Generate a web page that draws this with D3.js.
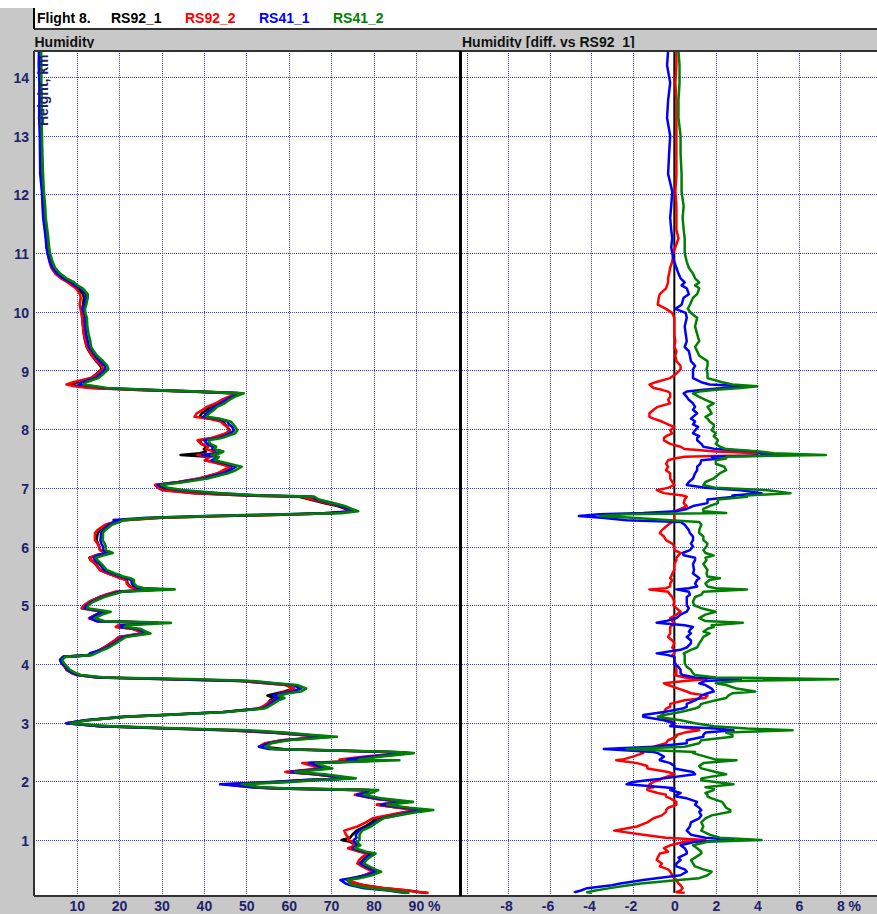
<!DOCTYPE html>
<html>
<head>
<meta charset="utf-8">
<title>Flight 8. Humidity</title>
<script src="https://cdn.jsdelivr.net/npm/d3@7"></script>
<style>
  html, body { margin: 0; padding: 0; background: #fff; }
  svg { display: block; }
</style>
</head>
<body>
<svg id="chart" width="877" height="914"></svg>
<script>
// Sounding levels (km) shared by all four radiosondes
const heightsKm = [
  14.44,14.2,13.9,13.6,13.3,13.0,12.7,12.35,12.05,11.8,
  11.6,11.4,11.25,11.1,11.0,10.85,10.75,10.65,10.57,10.5,
  10.45,10.4,10.3,10.24,10.12,10.05,9.98,9.9,9.75,9.62,
  9.5,9.4,9.33,9.25,9.16,9.08,9.02,8.95,8.87,8.8,
  8.76,8.73,8.7,8.67,8.64,8.61,8.55,8.5,8.44,8.38,
  8.33,8.27,8.21,8.18,8.13,8.08,8.04,7.98,7.93,7.88,
  7.85,7.81,7.75,7.7,7.66,7.62,7.59,7.56,7.53,7.5,
  7.47,7.41,7.36,7.3,7.25,7.16,7.1,7.05,7.0,6.96,
  6.91,6.87,6.85,6.8,6.74,6.69,6.64,6.6,6.57,6.55,
  6.52,6.49,6.45,6.42,6.37,6.28,6.23,6.17,6.11,6.05,
  6.0,5.94,5.89,5.85,5.81,5.77,5.7,5.6,5.54,5.49,
  5.46,5.43,5.37,5.32,5.29,5.27,5.23,5.18,5.14,5.06,
  5.0,4.95,4.89,4.84,4.78,4.73,4.7,4.66,4.63,4.6,
  4.55,4.52,4.46,4.4,4.35,4.28,4.24,4.18,4.15,4.12,
  4.07,4.01,3.95,3.9,3.84,3.81,3.77,3.74,3.71,3.67,
  3.64,3.58,3.53,3.5,3.46,3.42,3.38,3.32,3.27,3.24,
  3.18,3.13,3.1,3.04,2.99,2.94,2.9,2.87,2.83,2.79,
  2.76,2.7,2.65,2.59,2.55,2.5,2.48,2.42,2.37,2.36,
  2.31,2.26,2.22,2.16,2.12,2.05,2.02,1.99,1.95,1.9,
  1.88,1.85,1.8,1.77,1.74,1.71,1.65,1.6,1.55,1.51,
  1.48,1.42,1.37,1.3,1.23,1.16,1.09,1.04,1.0,0.97,
  0.91,0.86,0.8,0.77,0.7,0.66,0.6,0.55,0.5,0.46,
  0.4,0.35,0.32,0.26,0.23,0.18,0.14,0.11,0.1
];

// Relative humidity of the reference sonde RS92_1 (%)
const rhRS92_1 = [
  1.4,1.4,1.4,1.5,1.5,1.5,1.6,1.7,1.9,2.1,
  2.3,2.6,2.8,3.0,3.2,3.7,4.2,5.2,6.6,8.2,
  9.2,10.2,11.5,11.7,11.5,11.3,11.2,11.3,11.5,11.7,
  12.0,12.4,12.9,13.6,14.6,15.6,15.9,14.8,13.5,10.0,
  8.8,10.5,14.0,25.0,38.0,48.5,46.0,44.5,43.0,41.5,
  40.7,39.5,39.0,42.0,44.6,45.0,45.5,46.1,45.4,43.5,
  42.2,39.0,39.5,40.7,40.0,40.5,39.0,34.5,41.0,40.7,
  40.5,44.0,46.5,45.0,43.5,39.0,34.0,28.5,29.5,31.0,
  38.0,50.0,62.5,65.0,68.5,71.5,73.5,75.0,70.0,62.5,
  45.0,30.0,21.0,19.0,17.0,15.5,15.0,14.8,14.7,15.0,
  15.3,15.5,17.0,14.5,13.0,13.3,14.5,15.5,17.5,19.4,
  20.5,21.8,22.0,22.6,24.0,29.6,19.4,17.0,15.5,13.0,
  11.8,11.2,16.0,14.5,13.1,15.0,28.9,20.0,19.4,23.3,
  25.0,25.7,20.2,19.0,18.0,16.5,15.5,14.0,13.1,6.8,
  6.1,6.5,7.2,7.6,9.0,10.0,14.7,31.2,48.5,55.0,
  59.5,61.1,59.0,57.2,55.0,56.5,55.6,55.0,54.0,53.2,
  45.0,31.2,22.0,12.4,7.6,15.5,31.2,45.0,56.4,63.0,
  68.6,58.6,54.8,54.0,58.7,84.7,88.6,80.0,74.5,83.1,
  65.0,67.0,69.0,59.5,66.0,74.5,65.0,58.7,46.1,52.0,
  57.2,79.2,78.0,76.0,78.0,80.0,87.0,80.8,86.0,91.4,
  88.0,84.0,80.8,79.5,78.0,76.0,75.0,74.5,72.5,74.5,
  76.0,74.5,77.0,79.2,78.0,77.5,76.8,78.0,79.0,80.0,
  78.0,75.5,73.7,76.0,77.6,82.0,88.0,91.0,92.5
];

// Differences against RS92_1 (% RH)
const diffRS92_2 = [
  0.1,0.1,0.05,0.1,0.1,0.1,0.1,0.1,0.05,0.1,
  0.1,0.1,0.2,0.05,-0.05,-0.1,-0.2,-0.25,-0.3,-0.3,
  -0.35,-0.4,-0.7,-0.75,-0.8,-0.4,-0.1,0.0,0.0,0.0,
  0.05,0.0,0.1,0.05,0.1,0.3,0.3,0.1,-0.2,-0.9,
  -1.2,-1.1,-1.0,-0.6,-0.3,-0.2,-0.2,-0.3,-0.2,-0.8,
  -1.0,-1.2,-1.2,-1.0,-0.6,-0.3,0.0,-0.2,-0.1,-0.4,
  -0.5,-0.5,-0.2,0.3,0.5,2.0,4.0,4.0,0.5,0.0,
  -0.3,-0.4,-0.3,-0.4,-0.2,-0.2,-0.1,0.0,-0.3,-0.85,
  -0.5,0.4,0.6,0.5,0.45,0.6,0.3,0.0,0.0,0.0,
  0.0,0.0,0.0,-0.1,-0.3,-0.6,-0.7,-0.5,-0.4,-0.1,
  0.0,0.0,0.3,0.2,0.1,0.1,0.0,0.0,-0.1,-0.15,
  -0.2,-0.1,-0.2,-0.2,-0.4,-1.2,-0.3,-0.2,-0.1,0.0,
  -0.05,0.1,0.3,0.1,-0.2,-0.1,0.0,-0.1,-0.2,-0.2,
  -0.2,-0.2,-0.3,-0.1,0.0,-0.1,0.0,0.0,-0.1,0.0,
  0.0,0.05,0.1,0.1,0.1,0.0,0.5,1.55,0.5,-0.5,
  -0.3,0.2,0.6,0.8,1.6,1.5,0.5,-0.2,-0.2,-0.4,
  -0.5,-0.6,-0.7,-0.2,0.0,0.0,0.8,1.2,0.5,0.1,
  0.1,-0.3,-0.4,-1.0,-1.8,-1.6,-1.5,-2.0,-2.5,-2.8,
  -1.8,-1.3,-1.3,-0.3,0.0,-0.6,-0.7,-1.0,-1.2,-1.0,
  -1.3,-1.3,-0.8,-0.4,-0.4,-0.2,0.1,0.1,-0.3,-0.4,
  -0.4,-0.6,-1.0,-1.3,-1.8,-2.9,-1.5,-0.4,1.5,0.5,
  -0.2,-0.5,-0.3,-0.7,-0.8,-0.85,-0.6,-0.7,-0.3,-0.2,
  -0.1,0.0,0.1,0.2,0.3,0.4,0.3,0.1,0.5
];

const diffRS41_1 = [
  -0.3,-0.35,-0.2,-0.3,-0.35,-0.2,-0.25,-0.3,-0.1,-0.15,
  -0.2,-0.15,-0.1,-0.15,-0.1,0.0,0.1,0.2,0.3,0.5,
  0.35,0.6,0.7,0.45,0.35,0.05,0.55,0.6,0.5,0.55,
  0.6,0.5,0.7,0.75,0.8,1.0,0.9,0.9,0.9,1.3,
  1.7,3.5,2.4,1.4,0.6,0.45,0.6,0.7,0.9,1.0,
  0.9,1.1,0.9,0.8,1.0,0.9,1.15,1.0,0.9,1.2,
  1.1,1.1,1.3,1.4,2.0,3.9,4.2,5.1,1.8,2.2,
  1.3,1.25,1.1,1.1,1.0,0.9,0.7,0.6,1.5,3.2,
  4.2,2.8,2.9,1.6,1.6,0.9,0.6,0.1,-1.5,-3.6,
  -4.6,-3.5,-2.3,0.3,0.5,0.7,0.75,0.9,0.9,0.8,
  0.9,0.75,0.4,0.45,1.0,1.0,0.9,0.95,0.9,1.1,
  1.2,1.1,1.0,1.1,0.7,0.1,0.7,0.75,0.6,0.6,
  0.6,0.7,0.6,0.3,0.1,-0.4,-0.85,0.5,0.9,0.8,
  0.7,0.8,0.6,0.8,0.8,0.6,0.3,-0.85,-0.3,0.0,
  0.0,0.0,0.2,0.3,0.3,0.4,1.0,3.2,1.5,1.2,
  1.5,1.8,1.9,1.6,1.3,1.2,1.0,0.6,0.6,0.4,
  -0.5,-1.5,-1.5,-0.5,0.0,-0.2,2.0,2.85,1.5,1.4,
  1.4,0.6,0.6,-1.0,-3.4,-1.0,-0.8,-0.5,-0.7,-0.7,
  -0.2,0.0,0.0,0.9,1.0,-0.5,-1.3,-2.0,-2.3,-0.5,
  0.0,-0.2,0.3,0.1,0.1,0.6,1.1,1.0,1.2,1.3,
  1.2,1.3,1.2,0.8,0.75,0.6,0.8,1.5,2.85,1.0,
  0.3,0.5,0.6,0.6,0.2,0.3,0.1,0.1,0.5,0.6,
  0.3,-0.85,-1.5,-2.6,-3.0,-4.2,-4.5,-4.8,-4.8
];

const diffRS41_2 = [
  0.2,0.25,0.25,0.2,0.2,0.3,0.3,0.35,0.35,0.45,
  0.4,0.45,0.5,0.5,0.5,0.6,0.7,0.9,1.0,1.2,
  1.0,1.2,1.1,0.9,0.75,0.65,0.8,1.1,1.0,1.1,
  1.2,1.0,1.1,1.2,1.6,1.6,1.55,1.6,1.6,2.3,
  2.8,4.0,3.2,2.0,1.2,0.9,1.2,1.5,1.9,1.6,
  1.7,1.8,1.5,1.6,1.7,1.9,1.9,1.8,2.0,1.9,
  2.0,2.1,2.0,2.2,2.5,4.1,4.8,7.3,2.5,2.5,
  2.0,2.0,2.4,2.5,2.2,1.9,1.5,1.4,2.0,4.5,
  5.6,3.5,3.5,2.1,2.1,1.7,1.4,1.4,2.5,-2.3,
  -3.6,-2.0,-0.2,1.2,1.3,1.2,1.2,1.4,1.4,1.6,
  1.55,1.4,1.5,1.9,1.5,1.55,1.4,1.6,1.55,1.6,
  2.2,1.7,1.5,1.6,2.0,3.5,1.4,1.3,1.0,0.9,
  0.95,1.3,2.0,1.5,1.2,1.5,3.3,1.8,1.9,1.6,
  1.4,1.7,1.4,1.3,1.2,1.1,0.8,0.45,0.5,0.5,
  0.5,0.5,0.6,0.8,0.9,1.0,2.0,7.9,3.0,2.0,
  2.5,3.0,3.9,2.8,2.6,2.5,2.0,1.3,1.2,1.0,
  0.3,-0.5,-0.8,0.3,1.0,1.9,3.5,5.7,2.5,2.8,
  2.8,1.3,1.2,0.5,-2.3,1.0,0.9,1.5,2.0,3.0,
  1.4,1.2,1.3,2.0,2.5,1.3,1.3,2.0,2.85,1.5,
  1.9,1.9,1.5,1.6,1.6,1.8,2.3,2.4,2.5,2.7,
  2.7,1.8,1.5,1.3,1.4,1.3,1.7,2.2,4.2,1.6,
  0.9,1.1,1.3,1.3,1.0,0.8,0.9,1.0,1.4,1.8,
  1.6,1.2,0.2,-1.6,-2.2,-3.1,-3.8,-4.2,-4.0
];

const seriesNames = ["RS92_1", "RS92_2", "RS41_1", "RS41_2"];
const seriesColors = ["#000000", "#ff0000", "#0000ff", "#008000"];

const heightTicks = [1, 2, 3, 4, 5, 6, 7, 8, 9, 10, 11, 12, 13, 14];
const humidityTicks = [10, 20, 30, 40, 50, 60, 70, 80, 90];
const diffTicks = [-8, -6, -4, -2, 0, 2, 4, 6, 8];
const diffGrid = [-10, -8, -6, -4, -2, 0, 2, 4, 6, 8, 10];

// ---- derived series: absolute humidity of every sonde and its difference ----
const diffSeries = [heightsKm.map(() => 0), diffRS92_2, diffRS41_1, diffRS41_2];
const absSeries = diffSeries.map(d => d.map((v, i) => rhRS92_1[i] + v));

// ---- layout ----
const W = 877, H = 914;
const plotTop = 51, plotBottom = 896;
const leftX0 = 34, leftX1 = 458.5;
const rightX0 = 462, rightX1 = W;
const GRAY = "#c8c8c8";
const LABEL = "#22226a";
const FONT = "'Liberation Sans', Arial, sans-serif";

const y = d3.scaleLinear().domain([0.046, 14.443]).range([plotBottom, plotTop]);
const xL = d3.scaleLinear().domain([0, 100]).range([34.3, 458.3]);
const xR = d3.scaleLinear().domain([-10.3, 10.1]).range([460.6, 883.9]);

const svg = d3.select("#chart");

svg.append("rect").attr("width", W).attr("height", H).attr("fill", "#fff");
// frame areas
svg.append("rect").attr("x", 0).attr("y", 8).attr("width", leftX0).attr("height", H - 8).attr("fill", GRAY);
svg.append("rect").attr("x", 0).attr("y", 29).attr("width", W).attr("height", plotTop - 29).attr("fill", GRAY);
svg.append("rect").attr("x", 0).attr("y", plotBottom).attr("width", W).attr("height", H - plotBottom).attr("fill", GRAY);
svg.append("rect").attr("x", leftX0).attr("y", plotTop).attr("width", leftX1 - leftX0).attr("height", plotBottom - plotTop).attr("fill", "#fff");
svg.append("rect").attr("x", rightX0).attr("y", plotTop).attr("width", rightX1 - rightX0).attr("height", plotBottom - plotTop).attr("fill", "#fff");

const defs = svg.append("defs");
defs.append("clipPath").attr("id", "clipL").append("rect")
  .attr("x", leftX0 + 1).attr("y", plotTop).attr("width", leftX1 - leftX0 - 1).attr("height", plotBottom - plotTop);
defs.append("clipPath").attr("id", "clipR").append("rect")
  .attr("x", rightX0).attr("y", plotTop).attr("width", rightX1 - rightX0).attr("height", plotBottom - plotTop);
defs.append("clipPath").attr("id", "clipTitle").append("rect")
  .attr("x", 0).attr("y", 29).attr("width", W).attr("height", 19);

// ---- grid ----
const grid = svg.append("g")
  .attr("stroke", "#3a3aff").attr("stroke-width", 1)
  .attr("stroke-dasharray", "1,1").attr("shape-rendering", "crispEdges");

const gl = grid.append("g").attr("clip-path", "url(#clipL)");
gl.selectAll("line.v").data(humidityTicks).join("line")
  .attr("x1", d => Math.round(xL(d)) + 0.5).attr("x2", d => Math.round(xL(d)) + 0.5)
  .attr("y1", plotTop).attr("y2", plotBottom);
gl.selectAll("line.h").data(heightTicks).join("line")
  .attr("x1", leftX0).attr("x2", leftX1)
  .attr("y1", d => Math.round(y(d)) + 0.5).attr("y2", d => Math.round(y(d)) + 0.5);

const gr = grid.append("g").attr("clip-path", "url(#clipR)");
gr.selectAll("line.v").data(diffGrid.filter(d => d !== 0)).join("line")
  .attr("x1", d => Math.round(xR(d)) + 0.5).attr("x2", d => Math.round(xR(d)) + 0.5)
  .attr("y1", plotTop).attr("y2", plotBottom);
gr.selectAll("line.h").data(heightTicks).join("line")
  .attr("x1", rightX0).attr("x2", rightX1)
  .attr("y1", d => Math.round(y(d)) + 0.5).attr("y2", d => Math.round(y(d)) + 0.5);

// ---- profiles ----
const profile = (scale, values) => d3.line()
  .x(i => scale(values[i]))
  .y(i => y(heightsKm[i]))(d3.range(heightsKm.length));

const linesL = svg.append("g").attr("clip-path", "url(#clipL)")
  .attr("fill", "none").attr("stroke-linejoin", "round");
absSeries.forEach((vals, k) => {
  linesL.append("path").attr("d", profile(xL, vals))
    .attr("stroke", seriesColors[k]).attr("stroke-width", 2.6);
});

const linesR = svg.append("g").attr("clip-path", "url(#clipR)")
  .attr("fill", "none").attr("stroke-linejoin", "round");
diffSeries.forEach((vals, k) => {
  linesR.append("path").attr("d", profile(xR, vals))
    .attr("stroke", seriesColors[k]).attr("stroke-width", k === 0 ? 2 : 2.5);
});

// ---- frame lines ----
const frame = svg.append("g").attr("stroke", "#333").attr("shape-rendering", "crispEdges");
frame.append("line").attr("x1", leftX0).attr("x2", W).attr("y1", 29).attr("y2", 29).attr("stroke-width", 1.5);
frame.append("line").attr("x1", leftX0).attr("x2", leftX0).attr("y1", 8).attr("y2", 29).attr("stroke", "#000").attr("stroke-width", 2);
frame.append("line").attr("x1", leftX0).attr("x2", W).attr("y1", plotTop).attr("y2", plotTop).attr("stroke-width", 1.5);
frame.append("line").attr("x1", leftX0).attr("x2", W).attr("y1", plotBottom).attr("y2", plotBottom).attr("stroke-width", 1.5);
frame.append("line").attr("x1", leftX0).attr("x2", leftX0).attr("y1", plotTop).attr("y2", plotBottom).attr("stroke-width", 1.5);
svg.append("line").attr("x1", 460.5).attr("x2", 460.5).attr("y1", plotTop).attr("y2", plotBottom)
  .attr("stroke", "#000").attr("stroke-width", 3);

// ---- axes ----
function styleAxis(g) {
  g.select(".domain").remove();
  g.attr("font-family", FONT).attr("font-size", 14).attr("font-weight", "bold").attr("color", LABEL);
}

const yAxis = svg.append("g").attr("transform", `translate(${leftX0},0)`)
  .call(d3.axisLeft(y).tickValues(heightTicks).tickSize(0).tickPadding(5).tickFormat(d3.format("d")));
styleAxis(yAxis);
yAxis.selectAll("text").attr("dy", "0.4em");

const xAxisL = svg.append("g").attr("transform", `translate(0,${plotBottom})`)
  .call(d3.axisBottom(xL).tickValues(humidityTicks).tickSize(0).tickPadding(5.5)
    .tickFormat((d, i) => i === humidityTicks.length - 1 ? d + " %" : String(d)));
styleAxis(xAxisL);
xAxisL.selectAll("text").filter((d, i) => i === humidityTicks.length - 1)
  .attr("text-anchor", "start").attr("x", -7.8);

const xAxisR = svg.append("g").attr("transform", `translate(0,${plotBottom})`)
  .call(d3.axisBottom(xR).tickValues(diffTicks).tickSize(0).tickPadding(5.5)
    .tickFormat((d, i) => (d < 0 ? "-" + Math.abs(d) : String(d)) + (i === diffTicks.length - 1 ? " %" : "")));
styleAxis(xAxisR);
xAxisR.selectAll("text").each(function (d, i) {
  const t = d3.select(this);
  if (d < 0) t.attr("text-anchor", "end").attr("x", 3.9);
  else if (i === diffTicks.length - 1) t.attr("text-anchor", "start").attr("x", -3.9);
});

// ---- titles and legend ----
const titles = svg.append("g").attr("clip-path", "url(#clipTitle)")
  .attr("font-family", FONT).attr("font-size", 14).attr("font-weight", "bold").attr("fill", "#111");
titles.append("text").attr("x", 34.5).attr("y", 47).text("Humidity");
titles.append("text").attr("x", 462).attr("y", 47).text("Humidity [diff. vs RS92_1]");

const header = svg.append("g").attr("font-family", FONT).attr("font-size", 14).attr("font-weight", "bold");
header.append("text").attr("x", 37).attr("y", 23).attr("fill", "#000").text("Flight 8.");
const legendX = d3.scalePoint().domain(seriesNames).range([111, 333]);
header.selectAll("text.legend").data(seriesNames).join("text")
  .attr("class", "legend")
  .attr("x", d => legendX(d)).attr("y", 23)
  .attr("fill", (d, i) => seriesColors[i])
  .text(d => d);

svg.append("text")
  .attr("transform", "translate(47.5,126) rotate(-90)")
  .attr("font-family", FONT).attr("font-size", 14).attr("font-weight", "bold")
  .attr("fill", LABEL).text("Height, km");
</script>
</body>
</html>
